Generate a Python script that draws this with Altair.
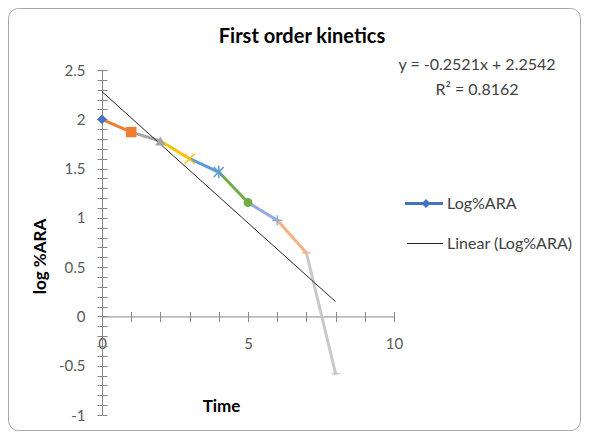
import altair as alt
import pandas as pd

# ---- data ----
time = [0, 1, 2, 3, 4, 5, 6, 7, 8]
log_ara = [2.00, 1.87, 1.78, 1.60, 1.465, 1.155, 0.975, 0.645, -0.58]
point_colors = ["#4472C4", "#ED7D31", "#A5A5A5", "#FFC000", "#5B9BD5",
                "#70AD47", "#8FAADC", "#F4B183", "#C9C9C9"]
point_shapes = ["diamond", "square", "triangle-up", "x", "star",
                "circle", "plus", "dash", "dash"]
trend_x = [0, 8]
trend_y = [2.28, 0.15]
equation_lines = ["y = -0.2521x + 2.2542", "R\u00b2 = 0.8162"]
legend_labels = ["Log%ARA", "Linear (Log%ARA)"]
chart_title = "First order kinetics"
x_title = "Time"
y_title = "log %ARA"

# ---- tables built from the lists ----
shape_paths = {
    "x": "M-1,-1L1,1M-1,1L1,-1",
    "star": "M-1,-1L1,1M-1,1L1,-1M0,-1.25L0,1.25",
    "plus": "M-1,0L1,0M0,-1L0,1",
    "dash": "M-1,0L1,0",
}
filled_set = {"diamond", "square", "triangle-up", "circle"}
size_map = {"diamond": 95, "square": 110, "triangle-up": 110, "circle": 80,
            "x": 100, "star": 100, "plus": 100, "dash": 70}

pts = pd.DataFrame({
    "time": time, "val": log_ara, "color": point_colors,
    "kind": point_shapes,
})
pts["shape"] = [shape_paths.get(k, k) for k in point_shapes]
pts["size"] = [size_map[k] for k in point_shapes]
pts["filled"] = [k in filled_set for k in point_shapes]

seg_rows = []
for i in range(1, len(time)):
    for j in (i - 1, i):
        seg_rows.append({"seg": i, "time": time[j], "val": log_ara[j],
                         "color": point_colors[i]})
segs = pd.DataFrame(seg_rows)
trend = pd.DataFrame({"time": trend_x, "val": trend_y})

# ---- geometry ----
W, H = 292, 345
ZERO = H * 1.0 / 3.5  # distance of y=0 from bottom
AX = "#868686"
FONT = "Lato"

x_scale = alt.Scale(domain=[0, 10], nice=False, zero=False)
y_scale = alt.Scale(domain=[-1, 2.5], nice=False, zero=False)
x_ticks = list(range(0, 11))
y_ticks = [round(-1 + 0.1 * i, 1) for i in range(36)]

common = dict(grid=False, domainColor=AX, tickColor=AX, tickSize=5,
              domainWidth=1, tickWidth=1, labelFont=FONT, labelFontSize=15,
              labelColor="#595959", titleFont=FONT, titleFontSize=17,
              titleFontWeight="bold", titleColor="#000000")

x_axis_main = alt.Axis(orient="bottom", offset=-ZERO, values=x_ticks,
                       labelExpr="datum.value % 5 == 0 ? '' + datum.value : ''",
                       labelPadding=15, labelFlush=False, title=x_title,
                       titleX=119, titleY=95, titleAlign="center",
                       titleBaseline="alphabetic", **common)
y_axis_main = alt.Axis(orient="left", values=y_ticks,
                       labelExpr="abs(datum.value*2 - round(datum.value*2)) < 1e-6 ? '' + datum.value : ''",
                       labelPadding=12, labelFlush=False, title=y_title,
                       titleX=-62, titleY=186, titleAngle=-90,
                       titleAlign="center", titleBaseline="middle", **common)
x_axis_2 = alt.Axis(orient="top", offset=-(H - ZERO), values=x_ticks,
                    labels=False, domain=False, title=None, grid=False,
                    tickColor=AX, tickSize=5, tickWidth=1)
y_axis_2 = alt.Axis(orient="right", offset=-W, values=y_ticks,
                    labels=False, domain=False, title=None, grid=False,
                    tickColor=AX, tickSize=5, tickWidth=1)

segments = alt.Chart(segs).mark_line(strokeWidth=3, strokeCap="round").encode(
    x=alt.X("time:Q", scale=x_scale, axis=x_axis_main),
    y=alt.Y("val:Q", scale=y_scale, axis=y_axis_main),
    detail="seg:N",
    color=alt.Color("color:N", scale=None),
    order="time:Q",
)

trend_line = alt.Chart(trend).mark_line(strokeWidth=1, color="#262626").encode(
    x=alt.X("time:Q", scale=x_scale, axis=x_axis_2),
    y=alt.Y("val:Q", scale=y_scale, axis=y_axis_2),
)

filled_pts = alt.Chart(pts).transform_filter("datum.filled").mark_point(
    filled=True, opacity=1).encode(
    x=alt.X("time:Q", scale=x_scale, axis=None),
    y=alt.Y("val:Q", scale=y_scale, axis=None),
    shape=alt.Shape("shape:N", scale=None),
    size=alt.Size("size:Q", scale=None),
    color=alt.Color("color:N", scale=None),
)
stroke_pts = alt.Chart(pts).transform_filter("!datum.filled").mark_point(
    filled=False, strokeWidth=1.5, opacity=1).encode(
    x=alt.X("time:Q", scale=x_scale, axis=None),
    y=alt.Y("val:Q", scale=y_scale, axis=None),
    shape=alt.Shape("shape:N", scale=None),
    size=alt.Size("size:Q", scale=None),
    color=alt.Color("color:N", scale=None),
)


def text_layer(txt, x, y, size, align, baseline, weight="normal", color="#404040"):
    return alt.Chart(pd.DataFrame({"t": [txt]})).mark_text(
        font=FONT, fontSize=size, fontWeight=weight, color=color,
        align=align, baseline=baseline).encode(
        text="t:N", x=alt.value(x), y=alt.value(y))


# ---- texts ----
title_txt = text_layer(chart_title, 200, -27, 20, "center", "alphabetic",
                       weight="bold", color="#000000")
eq_layers = [text_layer(t, 375, 25 * k, 16, "center", "alphabetic")
             for k, t in enumerate(equation_lines)]
leg_layers = [text_layer(t, 345, 133.5 + 40 * k, 16, "left", "middle")
              for k, t in enumerate(legend_labels)]

one = pd.DataFrame({"a": [0]})
leg_line1 = alt.Chart(one).mark_rule(
    strokeWidth=3, color="#4472C4").encode(
    x=alt.value(303), x2=alt.value(341), y=alt.value(133.5))
leg_mark1 = alt.Chart(one).mark_point(
    shape="diamond", filled=True, size=80, color="#4472C4", opacity=1).encode(
    x=alt.value(324), y=alt.value(133.5))
leg_line2 = alt.Chart(one).mark_rule(
    strokeWidth=1, color="#262626").encode(
    x=alt.value(305), x2=alt.value(341), y=alt.value(173.5))

border = alt.Chart(one).mark_rect(
    fillOpacity=0, stroke="#A6A6A6", strokeWidth=1, cornerRadius=10).encode(
    x=alt.value(-93.5), x2=alt.value(478.5), y=alt.value(-61.5),
    y2=alt.value(360.5))

chart = alt.layer(
    border, segments, trend_line, filled_pts, stroke_pts,
    title_txt, *eq_layers, *leg_layers, leg_line1, leg_mark1, leg_line2,
).resolve_axis(x="independent", y="independent").properties(
    width=W, height=H, autosize="none",
    padding={"left": 94, "top": 62, "right": 187, "bottom": 16},
).configure_view(stroke=None)

chart.save("out.html", embed_options={"renderer": "svg", "actions": False})
